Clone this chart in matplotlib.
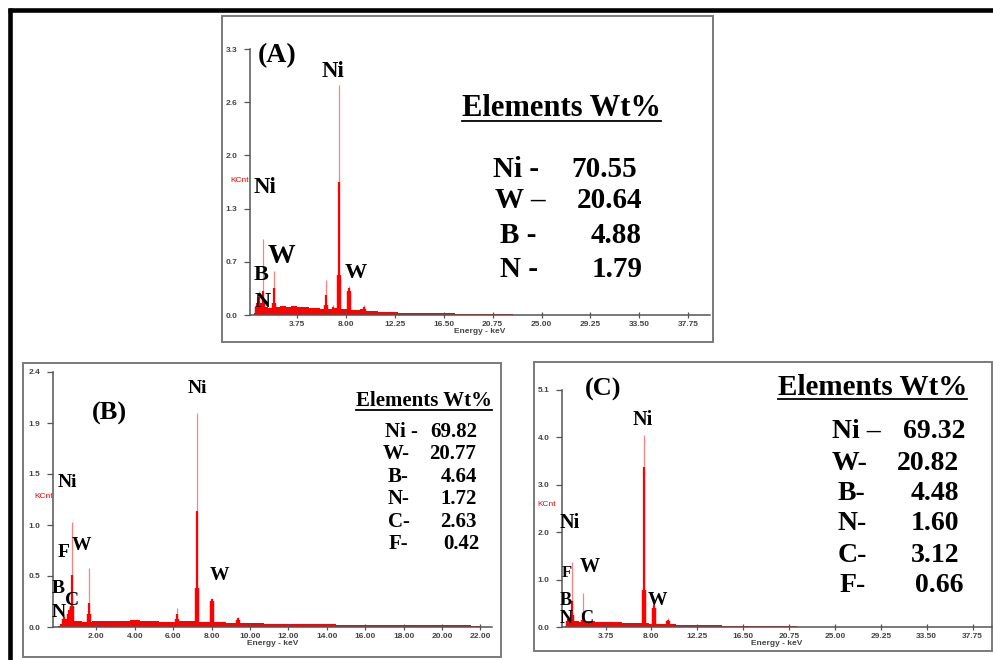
import matplotlib
matplotlib.use("Agg")
import matplotlib.pyplot as plt
from matplotlib.patches import Rectangle

W, H = 993, 660

# ------------------ data ------------------
# panel A
a_peak_e = [0.28, 0.40, 0.75, 1.74, 6.26, 6.90, 7.39, 8.26, 9.60]
a_peak_top = [0.22, 0.30, 0.94, 0.55, 0.43, 0.12, 2.85, 0.36, 0.13]
a_peak_core = [0.15, 0.22, 0.30, 0.33, 0.25, 0.10, 1.65, 0.34, 0.10]
a_peak_base = [0.10, 0.15, 0.15, 0.15, 0.12, 0.08, 0.50, 0.30, 0.08]
a_bg_e = [0.0, 0.25, 0.5, 1.0, 1.5, 2.0, 2.5, 3.0, 3.5, 4.0, 4.5, 5.0, 5.5, 6.0, 6.5, 7.0, 7.5, 8.0, 8.5,
          9.0, 9.5, 10.0, 10.5, 11.0, 12.0, 13.0, 14.0, 15.0, 16.0, 17.0, 18.0, 19.0, 20.0, 21.0, 22.0, 23.0, 24.0]
a_bg = [0.02, 0.10, 0.14, 0.10, 0.09, 0.10, 0.11, 0.10, 0.11, 0.10, 0.10, 0.09, 0.09, 0.08, 0.08, 0.09, 0.07, 0.07, 0.06,
        0.06, 0.07, 0.05, 0.05, 0.04, 0.035, 0.03, 0.03, 0.025, 0.02, 0.02, 0.018, 0.015, 0.012, 0.01, 0.008, 0.005, 0.0]
a_yticklabels = ["0.0", "0.7", "1.3", "2.0", "2.6", "3.3"]
a_ymax = 3.3
a_xticks = [3.75, 8.00, 12.25, 16.50, 20.75, 25.00, 29.25, 33.50, 37.75]
a_elements = ["Ni -", "W \u2013", "B -", "N -"]
a_wt = ["70.55", "20.64", "4.88", "1.79"]

# panel B
b_peak_e = [0.30, 0.55, 0.73, 1.62, 4.10, 6.18, 7.22, 8.00, 9.36]
b_peak_top = [0.12, 0.19, 1.00, 0.56, 0.08, 0.18, 2.04, 0.28, 0.10]
b_peak_core = [0.10, 0.16, 0.50, 0.23, 0.07, 0.12, 1.11, 0.27, 0.09]
b_peak_base = [0.08, 0.12, 0.20, 0.12, 0.06, 0.08, 0.37, 0.25, 0.07]
b_bg_e = [0.0, 0.25, 0.5, 1.0, 1.5, 2.0, 2.5, 3.0, 3.5, 4.0, 4.5, 5.0, 5.5, 6.0, 6.5, 7.0, 7.5, 8.0, 8.5, 9.0,
          9.5, 10.0, 10.5, 11.0, 11.5, 12.0, 13.0, 14.0, 15.0, 16.0, 17.0, 18.0, 19.0, 20.0, 21.0, 22.0]
b_bg = [0.01, 0.03, 0.08, 0.06, 0.05, 0.06, 0.06, 0.06, 0.06, 0.07, 0.06, 0.06, 0.05, 0.05, 0.06, 0.06, 0.05, 0.05, 0.05, 0.04,
        0.04, 0.04, 0.035, 0.03, 0.03, 0.03, 0.025, 0.025, 0.02, 0.02, 0.02, 0.018, 0.018, 0.015, 0.015, 0.012]
b_yticklabels = ["0.0", "0.5", "1.0", "1.5", "1.9", "2.4"]
b_ymax = 2.43
b_xticks = [2.00, 4.00, 6.00, 8.00, 10.00, 12.00, 14.00, 16.00, 18.00, 20.00, 22.00]
b_elements = ["Ni -", "W-", "B-", "N-", "C-", "F-"]
b_wt = ["69.82", "20.77", "4.64", "1.72", "2.63", "0.42"]

# panel C
c_peak_e = [0.30, 0.62, 1.64, 7.30, 8.24, 9.50]
c_peak_top = [0.22, 1.39, 0.72, 4.10, 0.52, 0.20]
c_peak_core = [0.18, 0.55, 0.30, 3.42, 0.48, 0.15]
c_peak_base = [0.12, 0.25, 0.15, 0.78, 0.40, 0.12]
c_bg_e = a_bg_e
c_bg = [0.02, 0.12, 0.15, 0.12, 0.11, 0.12, 0.12, 0.11, 0.11, 0.10, 0.10, 0.10, 0.09, 0.09, 0.09, 0.08, 0.08, 0.07, 0.07,
        0.06, 0.07, 0.06, 0.05, 0.05, 0.04, 0.04, 0.035, 0.03, 0.03, 0.025, 0.02, 0.02, 0.015, 0.012, 0.01, 0.005, 0.0]
c_yticklabels = ["0.0", "1.0", "2.0", "3.0", "4.0", "5.1"]
c_ymax = 5.06
c_xticks = a_xticks
c_elements = ["Ni \u2013", "W-", "B-", "N-", "C-", "F-"]
c_wt = ["69.32", "20.82", "4.48", "1.60", "3.12", "0.66"]

SERIF = "Liberation Serif"
SANS = "Liberation Sans"

fig = plt.figure(figsize=(W / 100, H / 100), dpi=100)

# background layer: frames
bg = fig.add_axes([0, 0, 1, 1], zorder=-2)
bg.set_xlim(0, W)
bg.set_ylim(H, 0)
bg.axis("off")
bg.plot([8, W], [9.5, 9.5], color="black", lw=3.3, solid_capstyle="butt")
bg.plot([10.3, 10.3], [8, H], color="black", lw=3.3, solid_capstyle="butt")
for (x0, y0, x1, y1) in [(222, 16, 713, 342), (23, 363, 501, 657), (534, 362, 992, 651)]:
    bg.add_patch(Rectangle((x0, y0), x1 - x0, y1 - y0, fill=False, ec="#7a7a7a", lw=1.4))


def spectrum(px0, py0, px1, py1, xlim, ymax, yticklabels, xticks,
             pe, ptop, pcore, pbase, bge, bgv, kcnt_xy):
    ax = fig.add_axes([px0 / W, 1 - py1 / H, (px1 - px0) / W, (py1 - py0) / H])
    ax.set_facecolor("none")
    ax.fill_between(bge, bgv, step="mid", color="#ff0000", lw=0)
    ax.vlines(pe, 0, ptop, color="#ff8080", lw=0.9)
    ax.vlines(pe, 0, pcore, color="#ff0000", lw=1.6)
    ax.vlines(pe, 0, pbase, color="#ff0000", lw=3.2)
    ax.set_xlim(*xlim)
    ax.set_ylim(0, ymax)
    ax.set_yticks([ymax * i / 5 for i in range(6)])
    ax.set_yticklabels(yticklabels)
    ax.set_xticks(xticks)
    ax.set_xticklabels(["%.2f" % v for v in xticks])
    for s in ["top", "right"]:
        ax.spines[s].set_visible(False)
    for s in ["left", "bottom"]:
        ax.spines[s].set_color("#555555")
        ax.spines[s].set_linewidth(1.1)
    ax.tick_params(axis="y", length=4, width=0.9, color="#555555", pad=5,
                   labelsize=6, labelcolor="#444444")
    ax.tick_params(axis="x", direction="inout", length=4, width=0.9, color="#555555", pad=2,
                   labelsize=6, labelcolor="#444444")
    for lab in ax.get_xticklabels() + ax.get_yticklabels():
        lab.set_fontweight("bold")
        lab.set_family(SANS)
    ax.set_xlabel("Energy - keV", fontsize=6, fontweight="bold", color="#444444",
                  family=SANS, labelpad=0.5)
    fig.text(kcnt_xy[0] / W, 1 - kcnt_xy[1] / H, "KCnt", color="red", fontsize=6,
             family=SANS, ha="right", va="center")
    return ax


spectrum(250, 49, 710, 315, ((250 - 254) / 11.5, (710 - 254) / 11.5), a_ymax, a_yticklabels, a_xticks,
         a_peak_e, a_peak_top, a_peak_core, a_peak_base, a_bg_e, a_bg, (249, 181))
spectrum(53, 372, 492, 627, ((53 - 58) / 19.2, (492 - 58) / 19.2), b_ymax, b_yticklabels, b_xticks,
         b_peak_e, b_peak_top, b_peak_core, b_peak_base, b_bg_e, b_bg, (53, 497))
spectrum(562, 390, 992, 627, ((562 - 565) / 10.8, (992 - 565) / 10.8), c_ymax, c_yticklabels, c_xticks,
         c_peak_e, c_peak_top, c_peak_core, c_peak_base, c_bg_e, c_bg, (556, 505))

# foreground layer: labels and tables
fg = fig.add_axes([0, 0, 1, 1], zorder=5)
fg.set_facecolor("none")
fg.set_xlim(0, W)
fg.set_ylim(H, 0)
fg.axis("off")


def put(x, y, s, size, ha="left"):
    return fg.text(x, y, s, fontsize=size, ha=ha, va="baseline", family=SERIF,
                   fontweight="bold", color="black")


# peak labels: (x, baseline, text, size)
for x, y, s, size in [(258, 62, "(A)", 20), (322, 77, "Ni", 16.5), (254, 193, "Ni", 16.5),
                      (268, 263, "W", 20), (254, 280, "B", 16), (255, 307, "N", 16),
                      (345, 278, "W", 16)]:
    put(x, y, s, size)
for x, y, s, size in [(92, 420, "(B)", 19), (188, 393, "Ni", 14), (58, 487, "Ni", 14),
                      (58, 557, "F", 14), (72, 550, "W", 14), (52, 593, "B", 14),
                      (65, 605, "C", 14), (52, 617, "N", 14), (210, 580, "W", 14)]:
    put(x, y, s, size)
for x, y, s, size in [(585, 396, "(C)", 19), (633, 425, "Ni", 14.5), (560, 528, "Ni", 14.5),
                      (562, 577, "F", 12), (580, 572, "W", 14.5), (560, 605, "B", 13),
                      (560, 623, "N", 13), (580, 623, "C", 13), (648, 605, "W", 14)]:
    put(x, y, s, size)

fig.canvas.draw()
renderer = fig.canvas.get_renderer()


def table(x, y, uy, size, elements, wt, lab_x, val_x, rows_y, vsize):
    t = put(x, y, "Elements Wt%", size)
    bb = t.get_window_extent(renderer).transformed(fg.transData.inverted())
    fg.plot([bb.x0, bb.x1], [uy, uy], color="black", lw=1.3)
    for el, v, lx, vx, ry in zip(elements, wt, lab_x, val_x, rows_y):
        put(lx, ry, el, vsize)
        put(vx, ry, v, vsize, ha="right")


table(462, 116, 121, 22, a_elements, a_wt, [493, 495, 500, 500], [637, 642, 642, 643],
      [177, 208, 243, 277], 21)
table(356, 406, 410, 15, b_elements, b_wt, [385, 383, 388, 388, 388, 389],
      [477, 476, 477, 477, 477, 479], [437, 459, 482, 504, 527, 549], 15)
table(778, 395, 399, 21, c_elements, c_wt, [832, 832, 838, 838, 838, 840],
      [965, 959, 959, 959, 959, 963], [438, 470, 500, 530, 562, 592], 20)

fig.savefig("out.png", dpi=100)
